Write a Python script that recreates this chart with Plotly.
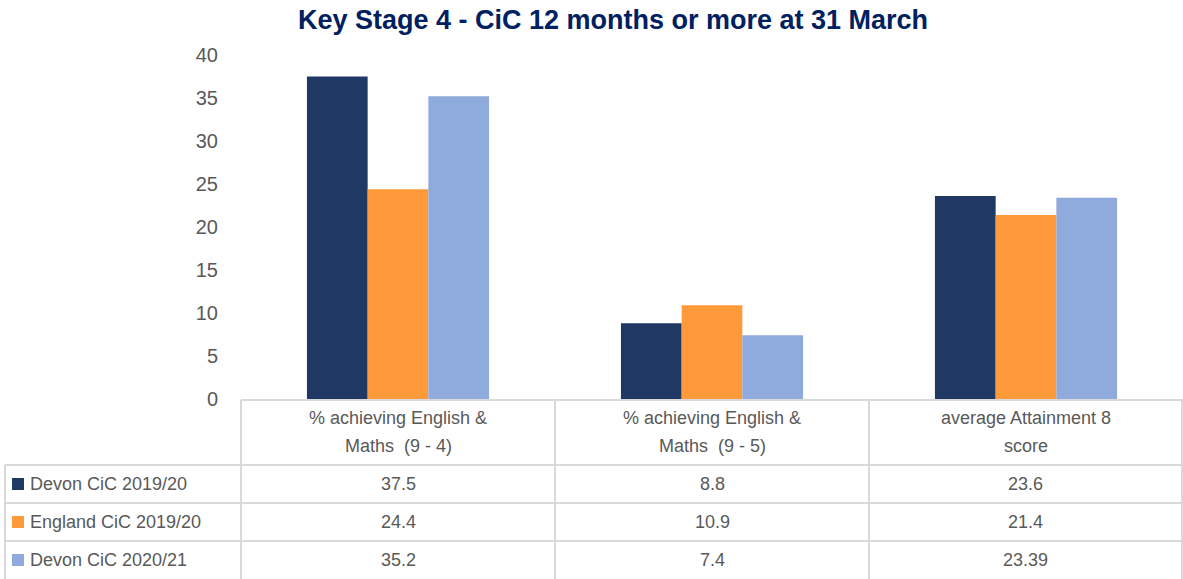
import plotly.graph_objects as go

categories = ["% achieving English &<br>Maths  (9 - 4)",
              "% achieving English &<br>Maths  (9 - 5)",
              "average Attainment 8<br>score"]
series_names = ["Devon CiC 2019/20", "England CiC 2019/20", "Devon CiC 2020/21"]
devon_1920 = [37.5, 8.8, 23.6]
england_1920 = [24.4, 10.9, 21.4]
devon_2021 = [35.2, 7.4, 23.39]
table_labels = [["37.5", "8.8", "23.6"], ["24.4", "10.9", "21.4"], ["35.2", "7.4", "23.39"]]
y_ticks = [0, 5, 10, 15, 20, 25, 30, 35, 40]

colors = ["#203864", "#FF9A3A", "#8FAADC"]
W, H = 1183, 579
FONT = "Liberation Sans"
TXT = "#595959"
GRID = "#D9D9D9"

def px(x):
    return x / W

def py(y):
    return 1 - y / H

fig = go.Figure()
for name, vals, c in zip(series_names, [devon_1920, england_1920, devon_2021], colors):
    fig.add_trace(go.Bar(x=list(range(len(categories))), y=vals, name=name,
                         marker=dict(color=c, line=dict(width=0))))

shapes = []
annotations = []
col_x = [241, 555, 869, 1182]
row_y = [400, 465, 503, 541, 579]
shapes.append(dict(type="line", xref="paper", yref="paper", x0=px(241), x1=px(1183),
                   y0=py(400), y1=py(400), line=dict(color=GRID, width=2)))
for yy in row_y[1:4]:
    shapes.append(dict(type="line", xref="paper", yref="paper", x0=px(5), x1=px(1183),
                       y0=py(yy), y1=py(yy), line=dict(color=GRID, width=2)))
for xx in col_x:
    shapes.append(dict(type="line", xref="paper", yref="paper", x0=px(xx), x1=px(xx),
                       y0=py(400), y1=py(579), line=dict(color=GRID, width=2)))
shapes.append(dict(type="line", xref="paper", yref="paper", x0=px(5), x1=px(5),
                   y0=py(465), y1=py(579), line=dict(color=GRID, width=2)))

# header (two lines each)
for i, cat in enumerate(categories):
    cx = (col_x[i] + col_x[i + 1]) / 2
    for line_txt, ly in zip(cat.split("<br>"), [418, 446]):
        annotations.append(dict(xref="paper", yref="paper", x=px(cx), y=py(ly), text=line_txt,
                                showarrow=False, xanchor="center", yanchor="middle",
                                font=dict(family=FONT, size=18, color=TXT)))
# rows
for r, (name, labs) in enumerate(zip(series_names, table_labels)):
    cy = (row_y[r + 1] + row_y[r + 2]) / 2
    shapes.append(dict(type="rect", xref="paper", yref="paper", x0=px(12), x1=px(24),
                       y0=py(cy + 6), y1=py(cy - 6), fillcolor=colors[r], line=dict(width=0)))
    annotations.append(dict(xref="paper", yref="paper", x=px(28), y=py(cy), text=name,
                            showarrow=False, xanchor="left", yanchor="middle",
                            font=dict(family=FONT, size=18, color=TXT)))
    for i, lab in enumerate(labs):
        cx = (col_x[i] + col_x[i + 1]) / 2
        annotations.append(dict(xref="paper", yref="paper", x=px(cx), y=py(cy), text=lab,
                                showarrow=False, xanchor="center", yanchor="middle",
                                font=dict(family=FONT, size=18, color=TXT)))

fig.update_layout(
    template="none",
    width=W, height=H,
    margin=dict(l=0, r=0, t=0, b=0, pad=0),
    paper_bgcolor="white", plot_bgcolor="white",
    showlegend=False,
    barmode="group", bargap=0.42, bargroupgap=0,
    title=dict(text="<b>Key Stage 4 - CiC 12 months or more at 31 March</b>",
               x=px(613), xanchor="center", y=py(20), yanchor="middle",
               automargin=False,
               font=dict(family=FONT, size=27, color="#002060")),
    xaxis=dict(domain=[px(241), 1], range=[-0.5, 2.5], showticklabels=False,
               showgrid=False, zeroline=False, showline=False, ticks="",
               automargin=False),
    yaxis=dict(domain=[py(399), py(55)], range=[0, 40], tickvals=y_ticks,
               showgrid=False, zeroline=False, showline=False, ticks="",
               ticklabelstandoff=22, automargin=False,
               tickfont=dict(family=FONT, size=20, color=TXT)),
    shapes=shapes, annotations=annotations,
)
fig.write_html("out.html", config={"displayModeBar": False},
               post_script="document.body.style.margin='0';document.body.style.overflow='hidden';")
